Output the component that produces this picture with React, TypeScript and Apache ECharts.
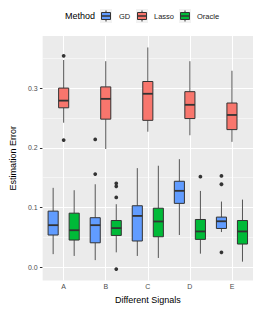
import React, { useEffect, useRef } from 'react';
import * as echarts from 'echarts';

const categories = ['A', 'B', 'C', 'D', 'E'];
const methods = ['GD', 'Lasso', 'Oracle'];

// [min, q1, median, q3, max] per category
const gdBoxes = [
  [0.022, 0.054, 0.0705, 0.094, 0.133],
  [0.012, 0.041, 0.0705, 0.083, 0.139],
  [0.019, 0.044, 0.086, 0.103, 0.166],
  [0.054, 0.107, 0.128, 0.144, 0.181],
  [0.059, 0.065, 0.077, 0.084, 0.11],
];
const lassoBoxes = [
  [0.242, 0.267, 0.279, 0.3, 0.347],
  [0.198, 0.248, 0.282, 0.302, 0.345],
  [0.227, 0.246, 0.2905, 0.311, 0.368],
  [0.221, 0.249, 0.272, 0.294, 0.345],
  [0.21, 0.2305, 0.255, 0.275, 0.329],
];
const oracleBoxes = [
  [0.019, 0.0456, 0.062, 0.0906, 0.129],
  [0.025, 0.0533, 0.0656, 0.0783, 0.1056],
  [0.0156, 0.0511, 0.0767, 0.0989, 0.17],
  [0.0228, 0.0467, 0.06, 0.08, 0.1278],
  [0.0094, 0.0389, 0.06, 0.0783, 0.1133],
];

// [categoryIndex, value]
const gdOutliers = [[1, 0.156], [1, 0.214], [4, 0.153], [4, 0.139], [4, 0.025]];
const lassoOutliers = [[0, 0.354], [0, 0.213]];
const oracleOutliers = [[1, 0.1406], [1, 0.1356], [1, 0.117], [1, -0.003], [3, 0.1517]];

const yTicks = [0, 0.1, 0.2, 0.3];
const yMinor = [0.05, 0.15, 0.25, 0.35];
const yMin = -0.0223;
const yMax = 0.3872;

const colors = ['#619CFF', '#F8766D', '#00BA38'];
const offsets = [-0.25, 0, 0.25];
const dark = '#333333';
const FONT = '"Liberation Sans", Arial, sans-serif';

function boxSeries(name: string, boxes: number[][], color: string, offset: number) {
  return {
    type: 'custom',
    name,
    z: 3,
    data: boxes.map((b, i) => [i, ...b]),
    encode: { x: 0, y: [1, 2, 3, 4, 5] },
    renderItem: (params: any, api: any) => {
      const ci = api.value(0);
      const band = api.size([1, 0])[0];
      const pt = (v: number) => api.coord([ci, v]);
      const cx = pt(api.value(3))[0] + offset * band;
      const hw = 0.12 * band;
      const yLo = pt(api.value(1))[1];
      const yQ1 = pt(api.value(2))[1];
      const yMed = pt(api.value(3))[1];
      const yQ3 = pt(api.value(4))[1];
      const yHi = pt(api.value(5))[1];
      return {
        type: 'group',
        children: [
          { type: 'line', shape: { x1: cx, y1: yHi, x2: cx, y2: yQ3 }, style: { stroke: '#555', lineWidth: 1 } },
          { type: 'line', shape: { x1: cx, y1: yQ1, x2: cx, y2: yLo }, style: { stroke: '#555', lineWidth: 1 } },
          {
            type: 'rect',
            shape: { x: cx - hw, y: yQ3, width: 2 * hw, height: yQ1 - yQ3 },
            style: { fill: color, stroke: dark, lineWidth: 1 },
          },
          { type: 'line', shape: { x1: cx - hw, y1: yMed, x2: cx + hw, y2: yMed }, style: { stroke: dark, lineWidth: 1.8 } },
        ],
      };
    },
  };
}

function outlierSeries(name: string, pts: number[][], offset: number) {
  return {
    type: 'custom',
    name: name + ' outliers',
    z: 4,
    data: pts,
    renderItem: (params: any, api: any) => {
      const band = api.size([1, 0])[0];
      const p = api.coord([api.value(0), api.value(1)]);
      return {
        type: 'circle',
        shape: { cx: p[0] + offset * band, cy: p[1], r: 1.9 },
        style: { fill: dark },
      };
    },
  };
}

function legendGraphics() {
  const keyX = [100, 136, 179];
  const textX = [119, 154, 197];
  const els: any[] = [
    {
      type: 'text',
      x: 65,
      y: 16,
      style: { text: 'Method', fontSize: 9, fill: '#000', verticalAlign: 'middle', fontFamily: FONT },
    },
  ];
  methods.forEach((m, i) => {
    const x = keyX[i];
    els.push({ type: 'rect', shape: { x, y: 9, width: 12, height: 14 }, style: { fill: '#F2F2F2' } });
    els.push({ type: 'line', shape: { x1: x + 6, y1: 10.5, x2: x + 6, y2: 21.5 }, style: { stroke: dark, lineWidth: 1 } });
    els.push({
      type: 'rect',
      shape: { x: x + 1.5, y: 12.5, width: 9, height: 7 },
      style: { fill: colors[i], stroke: dark, lineWidth: 1 },
    });
    els.push({ type: 'line', shape: { x1: x + 1.5, y1: 16, x2: x + 10.5, y2: 16 }, style: { stroke: dark, lineWidth: 1.5 } });
    els.push({
      type: 'text',
      x: textX[i],
      y: 16,
      style: { text: m, fontSize: 7.5, fill: '#1a1a1a', verticalAlign: 'middle', fontFamily: FONT },
    });
  });
  return els;
}

export default function App() {
  const ref = useRef<HTMLDivElement>(null);
  useEffect(() => {
    document.body.style.margin = '0';
    const chart = echarts.init(ref.current!, null, { renderer: 'svg' });
    const gridLines = [
      ...yTicks.map((v) => ({ yAxis: v, lineStyle: { color: '#ffffff', width: 1, type: 'solid' } })),
      ...yMinor.map((v) => ({ yAxis: v, lineStyle: { color: '#ffffff', width: 0.5, type: 'solid' } })),
      ...categories.map((c) => ({ xAxis: c, lineStyle: { color: '#ffffff', width: 1, type: 'solid' } })),
    ];
    chart.setOption({
      animation: false,
      textStyle: { fontFamily: FONT },
      grid: {
        left: 30,
        right: 5,
        top: 36,
        bottom: 26.3,
        show: true,
        backgroundColor: '#EBEBEB',
        borderWidth: 0,
      },
      xAxis: {
        type: 'category',
        data: categories,
        boundaryGap: true,
        axisLine: { show: false },
        axisTick: { show: true, alignWithLabel: true, length: 2.7, lineStyle: { color: dark } },
        axisLabel: { color: '#4D4D4D', fontSize: 7, margin: 2.5 },
        splitLine: { show: false },
        name: 'Different Signals',
        nameLocation: 'middle',
        nameGap: 13,
        nameTextStyle: { color: '#000', fontSize: 9 },
      },
      yAxis: {
        type: 'value',
        min: yMin,
        max: yMax,
        axisLine: { show: false },
        axisTick: { show: true, length: 2.7, customValues: yTicks, lineStyle: { color: dark } },
        axisLabel: {
          color: '#4D4D4D',
          fontSize: 7,
          margin: 5,
          customValues: yTicks,
          formatter: (v: number) => v.toFixed(1),
        },
        splitLine: { show: false },
        name: 'Estimation Error',
        nameLocation: 'middle',
        nameRotate: 90,
        nameGap: 14,
        nameTextStyle: { color: '#000', fontSize: 9 },
      },
      graphic: legendGraphics(),
      series: [
        {
          type: 'line',
          name: 'grid',
          data: [],
          silent: true,
          markLine: {
            silent: true,
            z: 1,
            symbol: ['none', 'none'],
            label: { show: false },
            animation: false,
            data: gridLines,
          },
        },
        boxSeries('GD', gdBoxes, colors[0], offsets[0]),
        boxSeries('Lasso', lassoBoxes, colors[1], offsets[1]),
        boxSeries('Oracle', oracleBoxes, colors[2], offsets[2]),
        outlierSeries('GD', gdOutliers, offsets[0]),
        outlierSeries('Lasso', lassoOutliers, offsets[1]),
        outlierSeries('Oracle', oracleOutliers, offsets[2]),
      ],
    });
    return () => chart.dispose();
  }, []);
  return <div ref={ref} style={{ position: 'absolute', left: 0, top: 0, width: 258, height: 309 }} />;
}
